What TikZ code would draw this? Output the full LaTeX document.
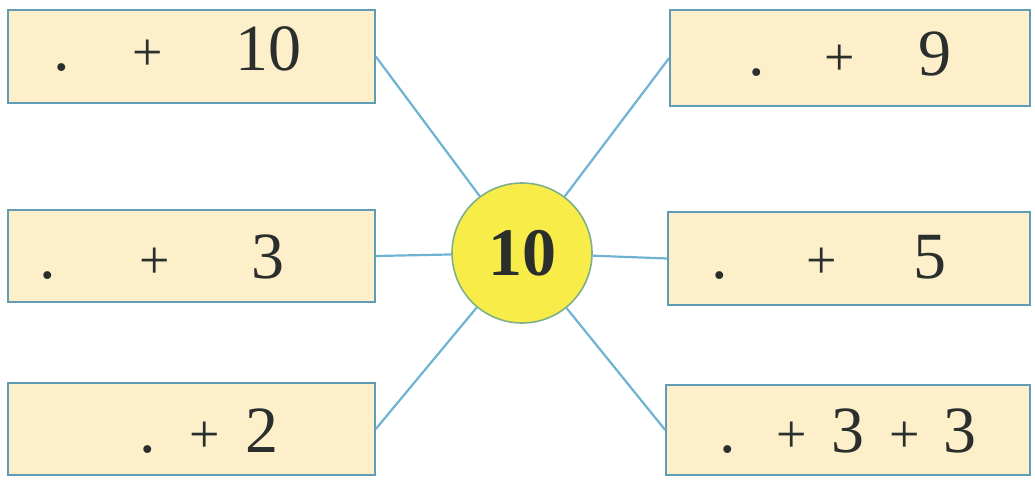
\documentclass[tikz,border=0pt]{standalone}
\usepackage{fontspec}
\setmainfont{Liberation Serif}
\definecolor{boxfill}{HTML}{FCEFC9}
\definecolor{boxline}{HTML}{5E9DB3}
\definecolor{linkline}{HTML}{6FB3D2}
\definecolor{sun}{HTML}{F8EC48}
\definecolor{sunline}{HTML}{7FB08A}
\definecolor{ink}{HTML}{2A2E2C}
\tikzset{
  numbox/.style={draw=boxline, line width=1.6pt, fill=boxfill, inner sep=0pt},
  tok/.style={anchor=base, inner sep=0pt, text=ink, font=\fontsize{66}{66}\selectfont},
  optok/.style={anchor=base, inner sep=0pt, text=ink, font=\fontsize{54}{54}\selectfont},
  link/.style={draw=linkline, line width=2.2pt},
  hub/.style={circle, draw=sunline, line width=1.6pt, fill=sun, minimum size=140pt, inner sep=0pt, font=\fontsize{68}{68}\selectfont\bfseries, text=ink}
}
\begin{document}
\begin{tikzpicture}[x=1pt,y=-1pt]
\useasboundingbox (0,0) rectangle (1035,482);
% boxes
\node[numbox, minimum width=367pt, minimum height=93pt] (L1) at (191.5,56.5) {};
\node[numbox, minimum width=367pt, minimum height=92pt] (L2) at (191.5,256) {};
\node[numbox, minimum width=367pt, minimum height=92pt] (L3) at (191.5,429) {};
\node[numbox, minimum width=360pt, minimum height=96pt] (R1) at (850,58) {};
\node[numbox, minimum width=362pt, minimum height=93pt] (R2) at (849,258.5) {};
\node[numbox, minimum width=364pt, minimum height=90pt] (R3) at (848,430) {};
% hub
\node[hub] (C) at (522,253) {10};
% links
\draw[link] (L1.east) -- (C);
\draw[link] (L2.east) -- (C);
\draw[link] (L3.east) -- (C);
\draw[link] (R1.west) -- (C);
\draw[link] (R2.west) -- (C);
\draw[link] (R3.west) -- (C);
% texts
\node[tok] (L1a) at (62,70) {.};
\node[optok] (L1b) at (148,70) {+};
\node[tok] (L1c) at (268,70) {10};
\node[tok] (L2a) at (48,278) {.};
\node[optok] (L2b) at (155,278) {+};
\node[tok] (L2c) at (268,278) {3};
\node[tok] (L3a) at (148,452) {.};
\node[optok] (L3b) at (205,452) {+};
\node[tok] (L3c) at (262,452) {2};
\node[tok] (R1a) at (757,75) {.};
\node[optok] (R1b) at (840,75) {+};
\node[tok] (R1c) at (935,75) {9};
\node[tok] (R2a) at (720,278) {.};
\node[optok] (R2b) at (822,278) {+};
\node[tok] (R2c) at (930,278) {5};
\node[tok] (R3a) at (728,452) {.};
\node[optok] (R3b) at (792,452) {+};
\node[tok] (R3c) at (848,452) {3};
\node[optok] (R3d) at (905,452) {+};
\node[tok] (R3e) at (960,452) {3};
\end{tikzpicture}
\end{document}
